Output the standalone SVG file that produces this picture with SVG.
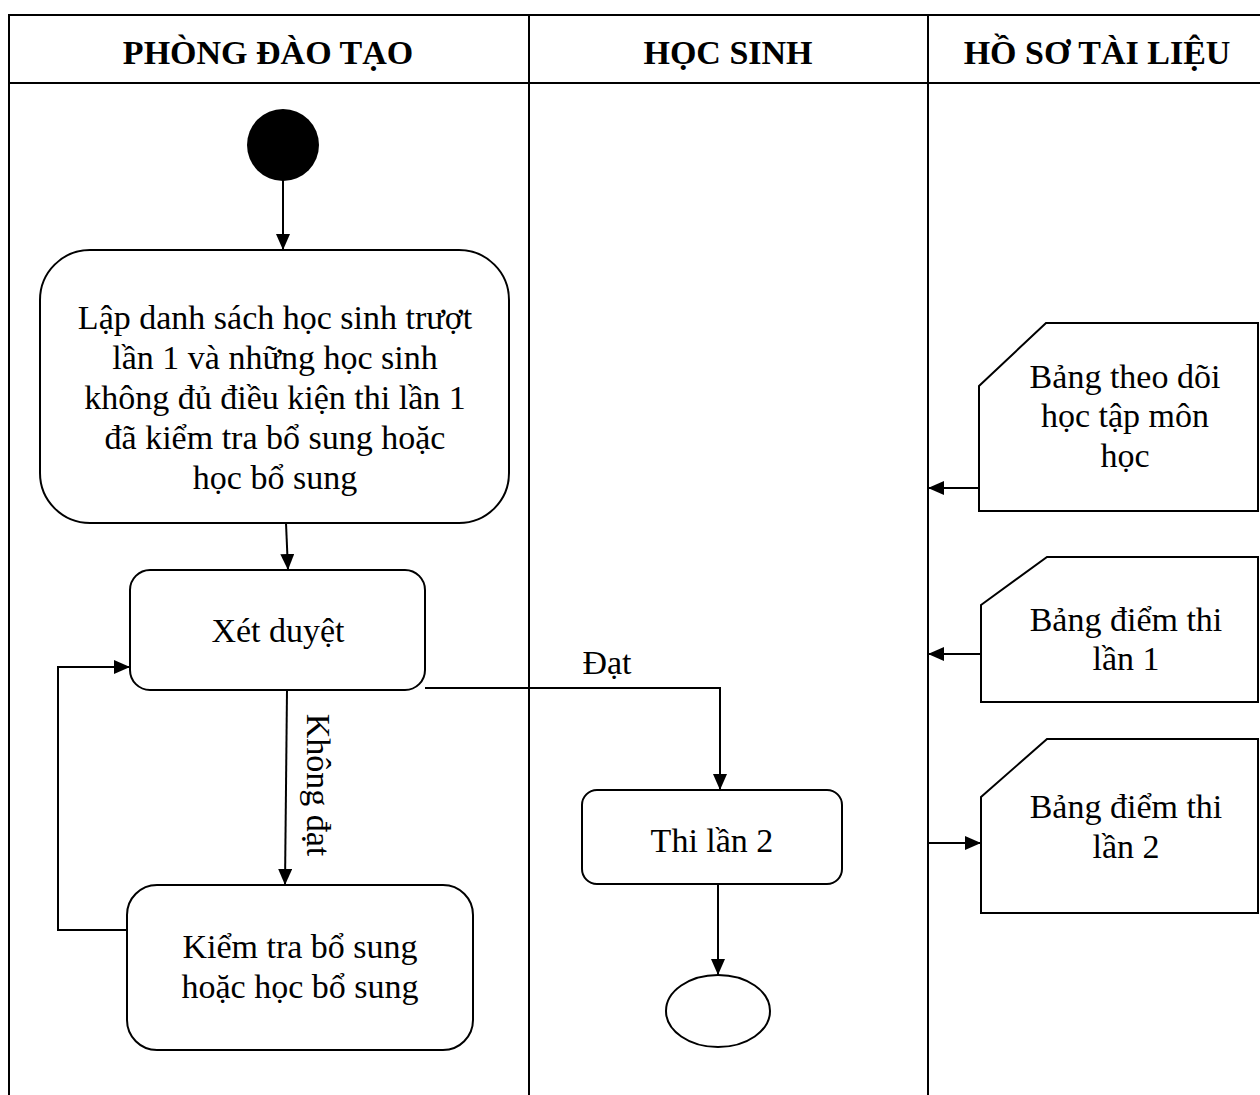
<svg xmlns="http://www.w3.org/2000/svg" width="1260" height="1095" viewBox="0 0 1260 1095">
<style>
.ln{stroke:#000;stroke-width:2;fill:none}
.box{stroke:#000;stroke-width:2;fill:#fff}
text{font-family:'Liberation Serif','DejaVu Serif',serif;fill:#000;text-anchor:middle}
.t{font-size:34px}
.h{font-size:34px;font-weight:bold}
</style>
<defs>
<marker id="ar" viewBox="0 0 16 14" refX="16" refY="7" markerWidth="16" markerHeight="14" markerUnits="userSpaceOnUse" orient="auto">
<path d="M0,0 L16,7 L0,14 Z" fill="#000"/>
</marker>
</defs>
<rect width="1260" height="1095" fill="#fff"/>
<g id="lanes">
<path class="ln" d="M9,1095 V15 H1260 M9,83 H1260 M529,15 V1095 M928,15 V1095" stroke-width="2.5"/>
<text class="h" x="268" y="64">PHÒNG ĐÀO TẠO</text>
<text class="h" x="728" y="64">HỌC SINH</text>
<text class="h" x="1097" y="64">HỒ SƠ TÀI LIỆU</text>
</g>
<g id="connectors">
<line class="ln" x1="283" y1="180" x2="283" y2="250" marker-end="url(#ar)"/>
<line class="ln" x1="286" y1="523" x2="288" y2="570" marker-end="url(#ar)"/>
<line class="ln" x1="287" y1="690" x2="285" y2="885" marker-end="url(#ar)"/>
<polyline class="ln" points="127,930 58,930 58,667 130,667" marker-end="url(#ar)"/>
<polyline class="ln" points="425,688 720,688 720,790" marker-end="url(#ar)"/>
<line class="ln" x1="718" y1="880" x2="718" y2="975" marker-end="url(#ar)"/>
<line class="ln" x1="979" y1="488" x2="928" y2="488" marker-end="url(#ar)"/>
<line class="ln" x1="981" y1="654" x2="928" y2="654" marker-end="url(#ar)"/>
<line class="ln" x1="928" y1="843" x2="981" y2="843" marker-end="url(#ar)"/>
<text class="t" x="607" y="674">Đạt</text>
<text class="t" transform="translate(307,785) rotate(90)">Không đạt</text>
</g>
<g id="start"><circle cx="283" cy="145" r="36" fill="#000"/></g>
<g id="lap-danh-sach">
<rect class="box" x="40" y="250" width="469" height="273" rx="50"/>
<text class="t" x="275" y="329">Lập danh sách học sinh trượt</text>
<text class="t" x="275" y="369">lần 1 và những học sinh</text>
<text class="t" x="275" y="409">không đủ điều kiện thi lần 1</text>
<text class="t" x="275" y="449">đã kiểm tra bổ sung hoặc</text>
<text class="t" x="275" y="489">học bổ sung</text>
</g>
<g id="xet-duyet">
<rect class="box" x="130" y="570" width="295" height="120" rx="20"/>
<text class="t" x="278" y="642">Xét duyệt</text>
</g>
<g id="kiem-tra">
<rect class="box" x="127" y="885" width="346" height="165" rx="30"/>
<text class="t" x="300" y="958">Kiểm tra bổ sung</text>
<text class="t" x="300" y="998">hoặc học bổ sung</text>
</g>
<g id="thi-lan-2">
<rect class="box" x="582" y="790" width="260" height="94" rx="15"/>
<text class="t" x="712" y="852">Thi lần 2</text>
</g>
<g id="end"><ellipse class="box" cx="718" cy="1011" rx="52" ry="36"/></g>
<g id="bang-theo-doi">
<path class="box" d="M979,386 L1046,323 H1258 V511 H979 Z"/>
<text class="t" x="1125" y="388">Bảng theo dõi</text>
<text class="t" x="1125" y="427">học tập môn</text>
<text class="t" x="1125" y="467">học</text>
</g>
<g id="bang-diem-1">
<path class="box" d="M981,605 L1047,557 H1258 V702 H981 Z"/>
<text class="t" x="1126" y="631">Bảng điểm thi</text>
<text class="t" x="1126" y="670">lần 1</text>
</g>
<g id="bang-diem-2">
<path class="box" d="M981,797 L1047,739 H1258 V913 H981 Z"/>
<text class="t" x="1126" y="818">Bảng điểm thi</text>
<text class="t" x="1126" y="858">lần 2</text>
</g>
</svg>
